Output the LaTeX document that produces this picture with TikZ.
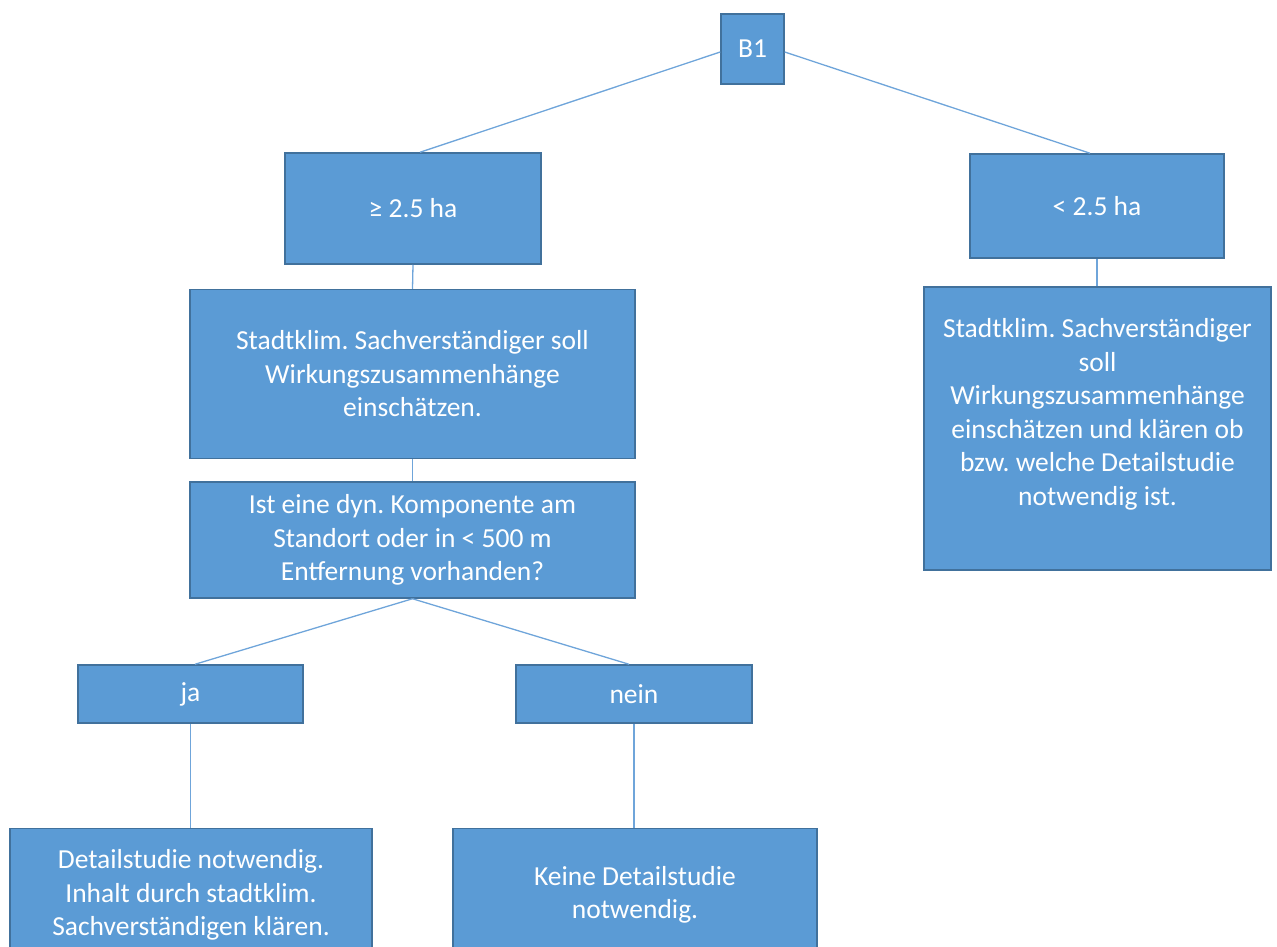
\documentclass[tikz,border=0pt]{standalone}
\usepackage{fontspec}
\setmainfont{Carlito}
\frenchspacing
\definecolor{boxfill}{HTML}{5B9BD5}
\definecolor{boxline}{HTML}{41719C}
\definecolor{linkline}{HTML}{6FA5DA}
\begin{document}
\begin{tikzpicture}[x=1pt,y=-1pt,
  box/.style={draw=boxline,line width=1.5pt,fill=boxfill,text=white,
    inner sep=0pt,align=center,
    font=\fontsize{27.5}{33.5}\selectfont},
  txt/.style={text=white,inner sep=0pt,align=center,
    font=\fontsize{27.5}{33.5}\selectfont},
  link/.style={draw=linkline,line width=1.3pt}]
\useasboundingbox (0,0) rectangle (1277,946);
\clip (0,0) rectangle (1277,946);

% top decision
\node[box,minimum width=63pt,minimum height=70pt] (b1) at (752.5,49) {B1};

% area branches
\node[box,minimum width=256pt,minimum height=111pt] (big) at (413,208.5) {≥ 2.5 ha};
\node[box,minimum width=254pt,minimum height=104pt] (small) at (1097,206) {< 2.5 ha};

% left path
\node[box,minimum width=445pt,minimum height=169pt] (sv1) at (412.5,374)
  {Stadtklim. Sachverständiger soll\\Wirkungszusammenhänge\\einschätzen.};
\node[box,minimum width=445pt,minimum height=116pt] (dyn) at (412.5,540)
  {Ist eine dyn. Komponente am\\Standort oder in < 500 m\\Entfernung vorhanden?};
\node[box,minimum width=225pt,minimum height=58pt] (ja) at (190.5,694) {ja};
\node[box,minimum width=236pt,minimum height=58pt] (nein) at (634,694) {nein};
\node[box,minimum width=362pt,minimum height=133pt] (det) at (191,895)
  {Detailstudie notwendig.\\Inhalt durch stadtklim.\\Sachverständigen klären.};
\node[box,minimum width=364pt,minimum height=133pt] (keine) at (635,895)
  {Keine Detailstudie\\notwendig.};

% right path
\node[box,minimum width=347pt,minimum height=283pt] (sv2) at (1097.5,428.5) {};
\node[txt] (sv2txt) at (1097.5,414.5)
  {Stadtklim. Sachverständiger\\soll\\Wirkungszusammenhänge\\einschätzen und klären ob\\bzw. welche Detailstudie\\notwendig ist.};

% connectors
\draw[link] ([yshift=-3pt]b1.west) -- ([xshift=7pt]big.north);
\draw[link] ([yshift=-3pt]b1.east) -- ([xshift=-7pt]small.north);
\draw[link] (big.south) -- (sv1.north);
\draw[link] (sv1.south) -- (dyn.north);
\draw[link] (dyn.south) -- ([xshift=4.5pt]ja.north);
\draw[link] (dyn.south) -- ([xshift=-5pt]nein.north);
\draw[link] (ja.south) -- (ja.south |- det.north);
\draw[link] (nein.south) -- (nein.south |- keine.north);
\draw[link] (small.south) -- (small.south |- sv2.north);
\end{tikzpicture}
\end{document}
